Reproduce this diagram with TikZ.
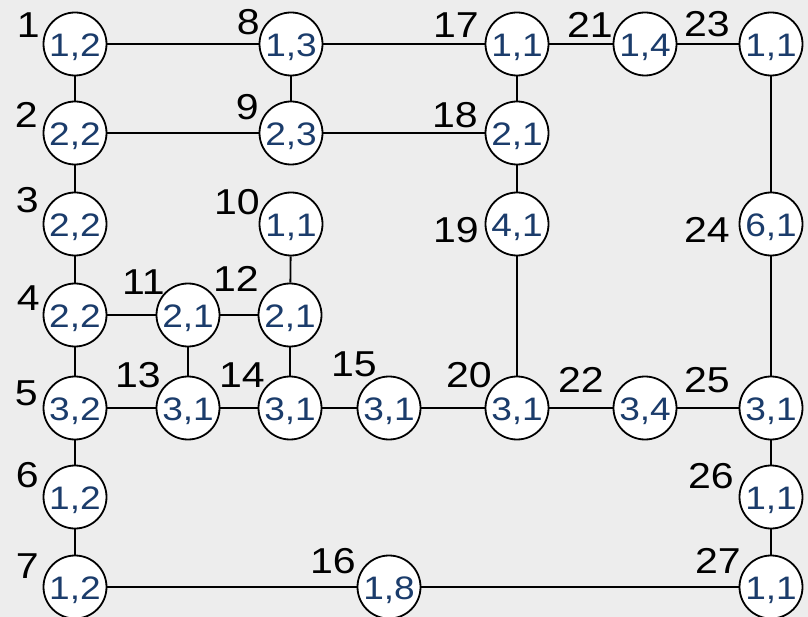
\documentclass[tikz,border=0pt]{standalone}
\usepackage{fontspec}
\setmainfont{Liberation Sans}[FakeStretch=1.14]
\definecolor{bgc}{HTML}{EDEDED}
\definecolor{inner}{HTML}{1B3C6B}
\begin{document}
\begin{tikzpicture}[x=1pt,y=-1pt,
  vtx/.style={circle,draw=black,fill=white,line width=1.8pt,minimum size=63pt,inner sep=0pt,
    text=inner,font=\fontsize{32.5}{32.5}\selectfont,text height=25pt,text depth=0pt},
  lab/.style={anchor=base east,inner sep=0pt,font=\fontsize{36}{36}\selectfont,text=black},
  edge/.style={line width=1.8pt,draw=black}]
\fill[bgc] (0,0) rectangle (808,617);
\useasboundingbox (0,0) rectangle (808,617);
% nodes
\node[vtx] (n1) at (75,44) {1,2};
\node[vtx] (n2) at (75,133) {2,2};
\node[vtx] (n3) at (75,224) {2,2};
\node[vtx] (n4) at (75,315) {2,2};
\node[vtx] (n5) at (75,408) {3,2};
\node[vtx] (n6) at (75,497) {1,2};
\node[vtx] (n7) at (75,587) {1,2};
\node[vtx] (n8) at (291,44) {1,3};
\node[vtx] (n9) at (291,133) {2,3};
\node[vtx] (n10) at (291,224) {1,1};
\node[vtx] (n11) at (188,315) {2,1};
\node[vtx] (n12) at (290,315) {2,1};
\node[vtx] (n13) at (188,408) {3,1};
\node[vtx] (n14) at (290,408) {3,1};
\node[vtx] (n15) at (389,408) {3,1};
\node[vtx] (n16) at (389,587) {1,8};
\node[vtx] (n17) at (517,44) {1,1};
\node[vtx] (n18) at (517,133) {2,1};
\node[vtx] (n19) at (517,224) {4,1};
\node[vtx] (n20) at (517,408) {3,1};
\node[vtx] (n21) at (645,44) {1,4};
\node[vtx] (n22) at (645,408) {3,4};
\node[vtx] (n23) at (771,44) {1,1};
\node[vtx] (n24) at (771,224) {6,1};
\node[vtx] (n25) at (771,408) {3,1};
\node[vtx] (n26) at (771,497) {1,1};
\node[vtx] (n27) at (771,587) {1,1};
% edges
\foreach \a/\b in {1/8,8/17,17/21,21/23,1/2,2/3,3/4,4/5,5/6,6/7,8/9,2/9,9/18,17/18,18/19,19/20,
  10/12,4/11,11/12,11/13,12/14,5/13,13/14,14/15,15/20,20/22,22/25,23/24,24/25,25/26,26/27,7/16,16/27}
  \draw[edge] (n\a) -- (n\b);
% labels
\node[lab] (l1) at (40,38) {1};
\node[lab] (l2) at (38,128) {2};
\node[lab] (l3) at (39,213) {3};
\node[lab] (l4) at (40,311) {4};
\node[lab] (l5) at (38,405) {5};
\node[lab] (l6) at (39,487) {6};
\node[lab] (l7) at (39,578) {7};
\node[lab] (l8) at (260,35) {8};
\node[lab] (l9) at (259,120) {9};
\node[lab] (l10) at (260,215) {10};
\node[lab] (l11) at (165,295) {11};
\node[lab] (l12) at (259,292) {12};
\node[lab] (l13) at (161,387) {13};
\node[lab] (l14) at (265,387) {14};
\node[lab] (l15) at (377,376) {15};
\node[lab] (l16) at (356,573) {16};
\node[lab] (l17) at (479,38) {17};
\node[lab] (l18) at (478,128) {18};
\node[lab] (l19) at (479,243) {19};
\node[lab] (l20) at (492,387) {20};
\node[lab] (l21) at (613,38) {21};
\node[lab] (l22) at (604,392) {22};
\node[lab] (l23) at (730,37) {23};
\node[lab] (l24) at (730,243) {24};
\node[lab] (l25) at (730,392) {25};
\node[lab] (l26) at (734,488) {26};
\node[lab] (l27) at (741,573) {27};
\end{tikzpicture}
\end{document}
